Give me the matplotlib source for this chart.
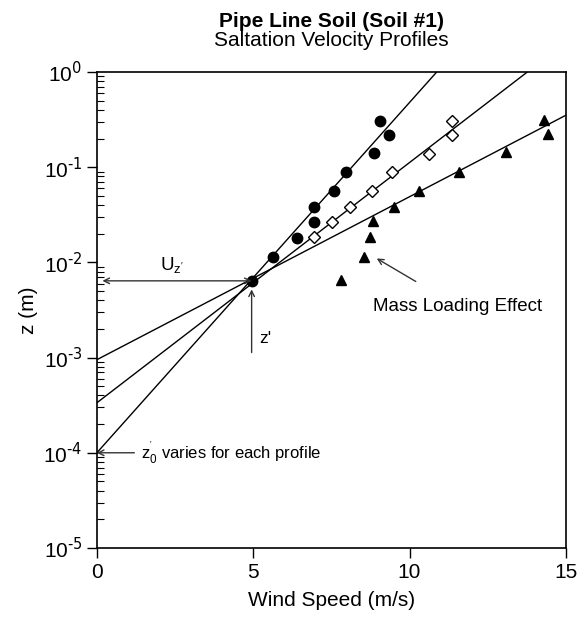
import numpy as np
import matplotlib
matplotlib.use("Agg")
from matplotlib import pyplot as plt
from matplotlib.ticker import LogLocator, FixedLocator

plt.rcParams['font.family'] = ['Liberation Sans', 'DejaVu Sans']

# measured profiles
u_circ = [4.95, 5.64, 6.39, 6.95, 6.95, 7.58, 7.98, 8.87, 9.34, 9.05]
z_circ = [0.0064, 0.0113, 0.018, 0.0268, 0.0385, 0.0566, 0.0897, 0.14, 0.218, 0.305]
u_diam = [6.95, 7.53, 8.10, 8.80, 9.45, 10.62, 11.36, 11.36]
z_diam = [0.0186, 0.0268, 0.0385, 0.056, 0.089, 0.138, 0.216, 0.305]
u_tri = [7.82, 8.53, 8.75, 8.84, 9.49, 10.31, 11.58, 13.07, 14.44, 14.30]
z_tri = [0.0066, 0.0115, 0.0186, 0.027, 0.0385, 0.0566, 0.0897, 0.143, 0.223, 0.313]

# fitted log-law lines: roughness height z0' and slope (decades per m/s)
z0_fit = [1.0e-4, 3.35e-4, 9.5e-4]
slope_fit = [0.368, 0.2524, 0.1712]

u_zp = 4.95   # U_z'
z_p = 0.0064  # z'

y_ticks = [1e-5, 1e-4, 1e-3, 1e-2, 1e-1, 1]
y_ticklabels = ['10$^{\\text{-5}}$', '10$^{\\text{-4}}$', '10$^{\\text{-3}}$',
                '10$^{\\text{-2}}$', '10$^{\\text{-1}}$', '10$^{\\text{0}}$']

fig = plt.figure(figsize=(5.87, 6.18), dpi=100)
ax = fig.add_axes([0.165, 0.1133, 0.799, 0.7702])
ax.set_yscale('log')
ax.set_xlim(0, 15)
ax.set_ylim(1e-5, 1)

u_line = np.array([0.0, 15.0])
for z0, s in zip(z0_fit, slope_fit):
    ax.plot(u_line, z0 * 10 ** (s * u_line), color='black', lw=1.0, zorder=2)

ax.plot(u_circ, z_circ, 'o', color='black', ms=7.5, zorder=3)
ax.plot(u_diam, z_diam, 'D', mfc='white', mec='black', mew=1.0, ms=6.5, zorder=3)
ax.plot(u_tri, z_tri, '^', color='black', ms=7, zorder=3)

# annotations
arr = dict(arrowstyle='<->', color='#333333', lw=1.0, shrinkA=0, shrinkB=4)
ax.annotate('', xy=(0, z_p), xytext=(u_zp, z_p), arrowprops=arr)
ax.text(2.4, 0.0093, r"U$_{\mathregular{z'}}$", fontsize=13.5, ha='center', va='center')

ax.annotate('', xy=(u_zp, 0.0052), xytext=(u_zp, 1.13e-3),
            arrowprops=dict(arrowstyle='->', color='#333333', lw=1.0, shrinkA=0, shrinkB=0))
ax.text(5.2, 1.6e-3, "z'", fontsize=12.5, ha='left', va='center')

ax.annotate('', xy=(8.95, 0.011), xytext=(10.2, 0.0063),
            arrowprops=dict(arrowstyle='->', color='#333333', lw=1.0, shrinkA=0, shrinkB=0))
ax.text(11.55, 0.0034, 'Mass Loading Effect', fontsize=13.5, ha='center', va='center')

ax.annotate('', xy=(0.0, 1e-4), xytext=(1.2, 1e-4),
            arrowprops=dict(arrowstyle='->', color='#333333', lw=1.0, shrinkA=0, shrinkB=0))
ax.text(1.4, 1e-4, r"z$_\mathregular{0}^{\mathregular{'}}$ varies for each profile",
        fontsize=12, ha='left', va='center')

# axes styling
ax.set_xticks([0, 5, 10, 15])
ax.yaxis.set_major_locator(FixedLocator(y_ticks))
ax.yaxis.set_minor_locator(LogLocator(base=10, subs=np.arange(2, 10)))
ax.set_yticklabels(y_ticklabels)
ax.yaxis.set_minor_formatter(plt.NullFormatter())
ax.tick_params(axis='both', which='major', direction='out', length=7, width=1.0, labelsize=15)
ax.tick_params(axis='y', which='minor', direction='in', length=5, width=0.8)
ax.tick_params(axis='x', pad=4)
for sp in ax.spines.values():
    sp.set_linewidth(1.2)

ax.set_xlabel('Wind Speed (m/s)', fontsize=15, labelpad=6)
ax.set_ylabel('z (m)', fontsize=15, labelpad=4)

fig.text(0.565, 0.966, 'Pipe Line Soil (Soil #1)', fontsize=15, fontweight='bold',
         ha='center', va='center')
fig.text(0.565, 0.935, 'Saltation Velocity Profiles', fontsize=15, ha='center', va='center')

plt.savefig('out.png', dpi=100)
